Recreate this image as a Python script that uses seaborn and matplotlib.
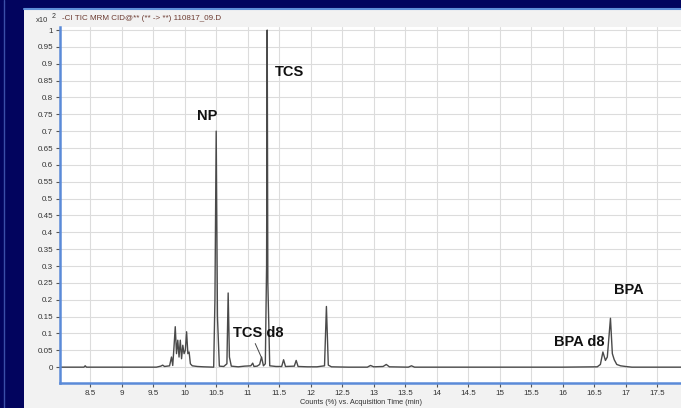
import matplotlib
matplotlib.use("Agg")
import matplotlib.pyplot as plt
from matplotlib.patches import Rectangle
from matplotlib.lines import Line2D
import numpy as np
import pandas as pd
import seaborn as sns

# Total ion chromatogram (MRM), relative counts (x10^2) vs retention time (min)
time_min = [8.00, 8.40, 8.42, 8.44, 9.00, 9.55, 9.62, 9.65, 9.68, 9.76, 9.79,
            9.81, 9.83, 9.85, 9.87, 9.89, 9.91, 9.93, 9.95, 9.97, 9.99, 10.01,
            10.03, 10.05, 10.07, 10.09, 10.12, 10.20, 10.30, 10.46, 10.48,
            10.50, 10.52, 10.55, 10.62, 10.67, 10.69, 10.71, 10.74, 10.85,
            10.95, 11.05, 11.08, 11.10, 11.15, 11.19, 11.22, 11.25, 11.28,
            11.30, 11.31, 11.32, 11.35, 11.45, 11.54, 11.57, 11.60, 11.74,
            11.77, 11.80, 11.95, 12.10, 12.22, 12.25, 12.28, 12.33, 12.60,
            12.90, 12.95, 13.00, 13.15, 13.20, 13.25, 13.55, 13.60, 13.65,
            14.50, 16.00, 16.55, 16.60, 16.64, 16.68, 16.71, 16.76, 16.79,
            16.82, 16.86, 16.92, 17.00, 17.10, 17.90]
counts = [0.000, 0.000, 0.004, 0.000, 0.000, 0.000, 0.003, 0.006, 0.002, 0.004,
          0.030, 0.005, 0.060, 0.120, 0.040, 0.080, 0.030, 0.080, 0.025, 0.065,
          0.040, 0.050, 0.105, 0.040, 0.045, 0.010, 0.004, 0.002, 0.001, 0.000,
          0.200, 0.700, 0.150, 0.003, 0.002, 0.010, 0.220, 0.030, 0.003, 0.001,
          0.003, 0.004, 0.012, 0.002, 0.003, 0.008, 0.030, 0.004, 0.010,
          0.300, 1.000, 0.250, 0.004, 0.002, 0.002, 0.022, 0.002, 0.003,
          0.020, 0.002, 0.001, 0.001, 0.004, 0.180, 0.006, 0.001, 0.000,
          0.000, 0.005, 0.001, 0.002, 0.008, 0.001, 0.000, 0.004, 0.000,
          0.000, 0.000, 0.001, 0.008, 0.045, 0.020, 0.030, 0.145, 0.040,
          0.022, 0.008, 0.004, 0.002, 0.000, 0.000]

peak_names = ["NP", "TCS", "TCS d8", "BPA d8", "BPA"]
label_x = [10.36, 11.66, 11.17, 16.26, 17.05]
label_y = [0.745, 0.875, 0.10, 0.075, 0.23]

x_ticks = [8.5, 9, 9.5, 10, 10.5, 11, 11.5, 12, 12.5, 13, 13.5, 14, 14.5,
           15, 15.5, 16, 16.5, 17, 17.5]
y_ticks = [0, 0.05, 0.1, 0.15, 0.2, 0.25, 0.3, 0.35, 0.4, 0.45, 0.5, 0.55,
           0.6, 0.65, 0.7, 0.75, 0.8, 0.85, 0.9, 0.95, 1]

df = pd.DataFrame({"time": time_min, "counts": counts})

sns.set_theme(style="white")
plt.rcParams["font.family"] = ["Liberation Sans", "DejaVu Sans"]

W, H = 681, 408
fig = plt.figure(figsize=(W / 100, H / 100), dpi=100)
fig.patch.set_facecolor("#02045e")

# software window panel
fig.add_artist(Rectangle((24 / W, 0), 1 - 24 / W, (H - 9) / H,
                         transform=fig.transFigure, facecolor="#f2f2f2",
                         edgecolor="none", zorder=0))
fig.add_artist(Line2D([24 / W, 1], [(H - 9) / H] * 2, transform=fig.transFigure,
                      color="#5f8fd8", lw=1.5))
fig.add_artist(Line2D([4 / W] * 2, [0, 1], transform=fig.transFigure,
                      color="#3a4fa8", lw=1.0))

ax = fig.add_axes([60 / W, 25 / H, (W - 60) / W, (383 - 27) / H])
ax.set_facecolor("white")

sns.lineplot(data=df, x="time", y="counts", ax=ax, color="#4a4a4a",
             linewidth=1.0, estimator=None, sort=False)

ax.set_xlim(8.02, 17.88)
ax.set_ylim(-0.047, 1.009)
ax.set_xticks(x_ticks)
ax.set_xticklabels([f"{t:g}" for t in x_ticks])
ax.set_yticks(y_ticks)
ax.set_yticklabels([f"{t:g}" for t in y_ticks])
ax.grid(True, color="#dcdcdc", linewidth=0.8)
ax.tick_params(axis="both", direction="out", length=3, width=0.8,
               colors="#555555", labelsize=5.8, pad=2, left=True, bottom=True)
ax.tick_params(axis="both", labelcolor="#333333")

for side in ["top", "right"]:
    ax.spines[side].set_visible(False)
for side in ["left", "bottom"]:
    ax.spines[side].set_color("#5a8ad8")
    ax.spines[side].set_linewidth(1.8)

ax.set_xlabel("")
ax.set_ylabel("")
fig.text(0.53, 1 - 402 / H, "Counts (%) vs. Acquisition Time (min)",
         fontsize=5.3, color="#333333", ha="center", va="center")

# header texts
fig.text(62 / W, 1 - 19 / H, "-CI TIC MRM CID@** (** -> **) 110817_09.D",
         fontsize=5.8, color="#6b3a30", va="center", ha="left")
fig.text(36 / W, 1 - 20 / H, "x10", fontsize=5.5, color="#333333",
         va="center", ha="left")
fig.text(52 / W, 1 - 16 / H, "2", fontsize=5, color="#333333",
         va="center", ha="left")

# peak labels
for name, lx, ly in zip(peak_names, label_x, label_y):
    ax.text(lx, ly, name, fontsize=10.5, fontweight="bold", color="#111111",
            ha="center", va="center")
ax.plot([11.12, 11.22], [0.07, 0.028], color="#444444", lw=0.7)

fig.savefig("out.png", dpi=100, facecolor=fig.get_facecolor())
